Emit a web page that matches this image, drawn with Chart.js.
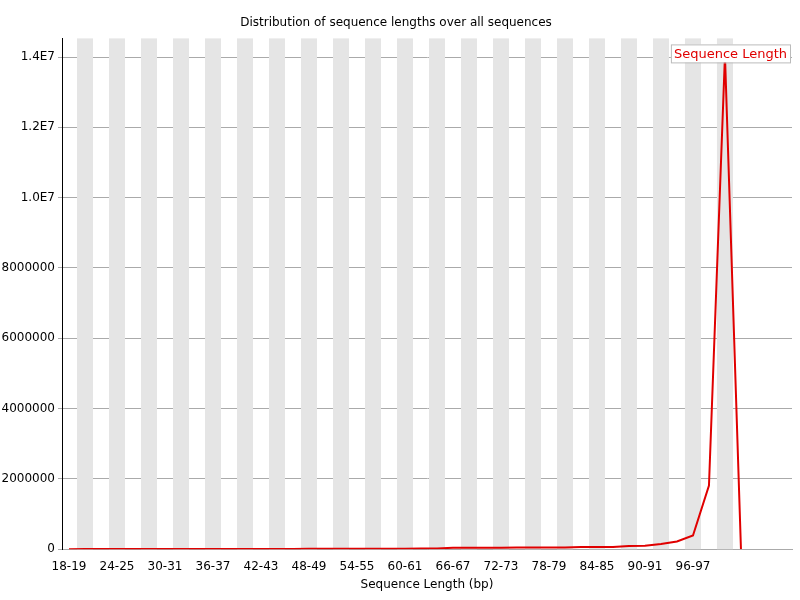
<!DOCTYPE html>
<html>
<head>
<meta charset="utf-8">
<script src="https://cdn.jsdelivr.net/npm/chart.js@4"></script>
<style>
  body { margin: 0; background: #fff; }
</style>
</head>
<body>
<canvas id="LineChart" width="800" height="600"></canvas>
<script>
const categories = ['18-19','20-21','22-23','24-25','26-27','28-29','30-31','32-33','34-35','36-37',
  '38-39','40-41','42-43','44-45','46-47','48-49','50-51','52-53','54-55','56-57',
  '58-59','60-61','62-63','64-65','66-67','68-69','70-71','72-73','74-75','76-77',
  '78-79','80-81','82-83','84-85','86-87','88-89','90-91','92-93','94-95','96-97',
  '98-99','100-101','102-103'];
const seqLength = [2000, 3000, 4000, 5000, 6000, 5000, 6000, 7000, 6000, 7000,
  7000, 8000, 8000, 9000, 9000, 10000, 10000, 11000, 11000, 12000,
  13000, 15000, 18000, 22000, 40000, 40000, 42000, 44000, 45000, 46000,
  46000, 50000, 60000, 62000, 65000, 90000, 95000, 150000, 220000, 390000,
  1810000, 14050000, 0];
const yTicks = [0, 2000000, 4000000, 6000000, 8000000, 10000000, 12000000, 14000000];

const stripes = {
  id: 'stripes',
  beforeDatasetsDraw(chart) {
    const { ctx, chartArea, scales: { x } } = chart;
    ctx.save();
    ctx.fillStyle = '#e5e5e5';
    for (let i = 1; i < categories.length; i += 2) {
      const l = x.getPixelForValue(i - 0.5);
      const r = x.getPixelForValue(i + 0.5);
      ctx.fillRect(l, chartArea.top, r - l, chartArea.bottom - chartArea.top);
    }
    ctx.restore();
  }
};

// legend box with grey border, drawn over the plot
const legendBox = {
  id: 'legendBox',
  afterDraw(chart) {
    const { ctx, chartArea } = chart;
    const text = 'Sequence Length';
    ctx.save();
    ctx.font = '13px "DejaVu Sans"';
    const w = ctx.measureText(text).width + 6;
    const l = chartArea.right - w - 2, t = chartArea.top + 6;
    ctx.fillStyle = '#fff';
    ctx.fillRect(l, t, w, 18);
    ctx.strokeStyle = '#bbb';
    ctx.lineWidth = 1;
    ctx.strokeRect(l + 0.5, t + 0.5, w, 18);
    ctx.fillStyle = '#e00000';
    ctx.textBaseline = 'middle';
    ctx.fillText(text, l + 3, t + 10);
    ctx.restore();
  }
};

const font = { family: 'DejaVu Sans', size: 12, weight: 'normal' };
Chart.defaults.font = font;
Chart.defaults.color = '#000';

new Chart(document.getElementById('LineChart'), {
  type: 'line',
  data: {
    datasets: [{
      label: 'Sequence Length',
      data: seqLength.map((v, i) => ({ x: i, y: v })),
      borderColor: '#e00000',
      borderWidth: 2,
      pointRadius: 0,
      tension: 0
    }]
  },
  options: {
    responsive: false,
    animation: false,
    layout: { padding: { top: 0, right: 8, left: 0, bottom: 4 } },
    plugins: {
      title: { display: true, text: 'Distribution of sequence lengths over all sequences',
        font: font, padding: { top: 16, bottom: 8 } },
      legend: { display: false },
      tooltip: { enabled: false }
    },
    scales: {
      x: {
        type: 'linear', min: -0.4375, max: 45.19,
        afterBuildTicks: (ax) => {
          ax.ticks = categories.map((c, i) => ({ value: i })).filter(t => t.value % 3 === 0 && t.value <= 39);
        },
        ticks: { autoSkip: false, maxRotation: 0, padding: 2, callback: (v) => categories[v] },
        grid: { display: false },
        border: { color: '#aaa' },
        title: { display: true, text: 'Sequence Length (bp)', font: font, padding: { top: 2 } }
      },
      y: {
        min: 0, max: 14530000,
        afterBuildTicks: (ax) => { ax.ticks = yTicks.map(v => ({ value: v })); },
        afterFit: (ax) => { ax.width = 62; },
        ticks: { callback: (v) => v >= 10000000 ? (v / 10000000).toFixed(1) + 'E7' : String(v) },
        grid: { color: '#aaa', drawTicks: true, tickLength: 4 },
        border: { color: '#000' }
      }
    }
  },
  plugins: [stripes, legendBox]
});
</script>
</body>
</html>
